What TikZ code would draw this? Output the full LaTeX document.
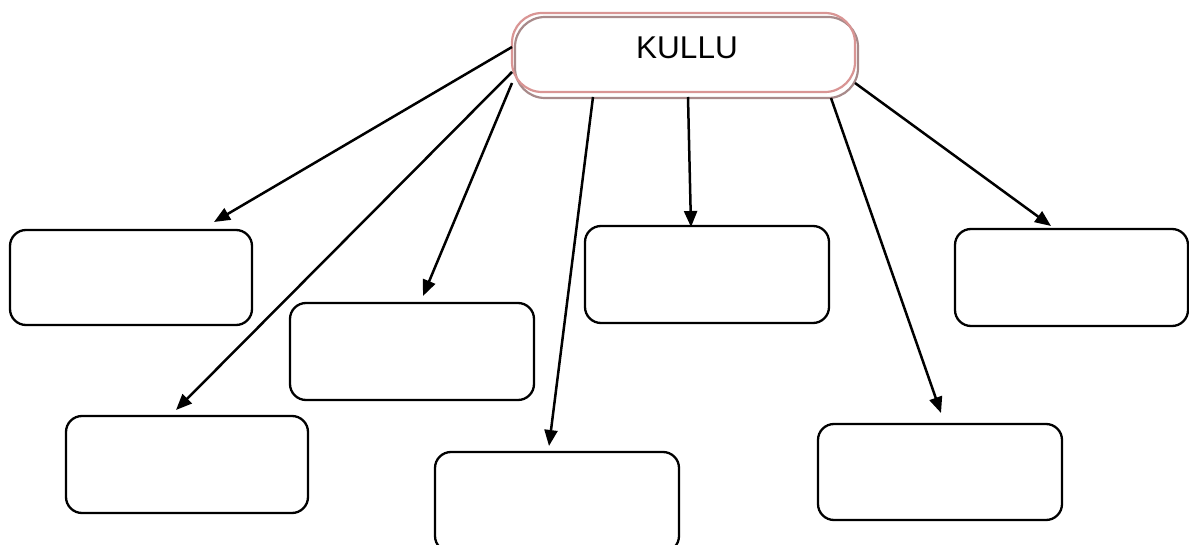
\documentclass[tikz,border=0pt]{standalone}
\usepackage{fontspec}
\setmainfont{Liberation Sans}
\usetikzlibrary{arrows.meta}
\definecolor{pinkline}{HTML}{D99594}
\definecolor{shadowline}{HTML}{A88A8A}
\tikzset{
  leaf/.style={draw=black, line width=2.3pt, rounded corners=16pt},
  conn/.style={draw=black, line width=2.5pt, -{Triangle[length=16pt,width=13pt]}},
}
\begin{document}
\begin{tikzpicture}[x=1pt,y=-1pt]
\useasboundingbox (0,0) rectangle (1189,545);
\begin{scope}
\clip (0,0) rectangle (1189,545);
% KULLU box: shadow outline then pink outline
\draw[shadowline, line width=2.2pt, rounded corners=30pt] (515,17) rectangle (858,98);
\node[draw=pinkline, line width=2.2pt, rounded corners=30pt, minimum width=343pt, minimum height=79pt, inner sep=0pt] (kullu) at (683.5,52.5) {};
\node[font=\fontsize{31.5}{36}\selectfont] (kt) at (687,48) {KULLU};
% leaf boxes
\draw[leaf] (10,230) rectangle (252,325); \coordinate (b1) at (131,230);
\draw[leaf] (290,303) rectangle (534,400); \coordinate (b2) at (412,303);
\draw[leaf] (66,416) rectangle (308,513); \coordinate (b3) at (187,416);
\draw[leaf] (435,452) rectangle (679,552); \coordinate (b4) at (557,452);
\draw[leaf] (585,226) rectangle (829,323); \coordinate (b5) at (707,226);
\draw[leaf] (955,229) rectangle (1188,326); \coordinate (b6) at (1071,229);
\draw[leaf] (818,424) rectangle (1062,520); \coordinate (b7) at (940,424);
% arrow start and end points
\coordinate (s1) at (512,47);  \coordinate (e1) at (214,222);
\coordinate (s2) at (512,72);  \coordinate (e2) at (176,410);
\coordinate (s3) at (512,83);  \coordinate (e3) at (423,296);
\coordinate (s4) at (593,97);  \coordinate (e4) at (549,446);
\coordinate (s5) at (688,97);  \coordinate (e5) at (691,227);
\coordinate (s6) at (831,98);  \coordinate (e6) at (941,413);
\coordinate (s7) at (855,83);  \coordinate (e7) at (1051,226);
\draw[conn] (s1) -- (e1);
\draw[conn] (s2) -- (e2);
\draw[conn] (s3) -- (e3);
\draw[conn] (s4) -- (e4);
\draw[conn] (s5) -- (e5);
\draw[conn] (s6) -- (e6);
\draw[conn] (s7) -- (e7);
\end{scope}
\end{tikzpicture}
\end{document}
